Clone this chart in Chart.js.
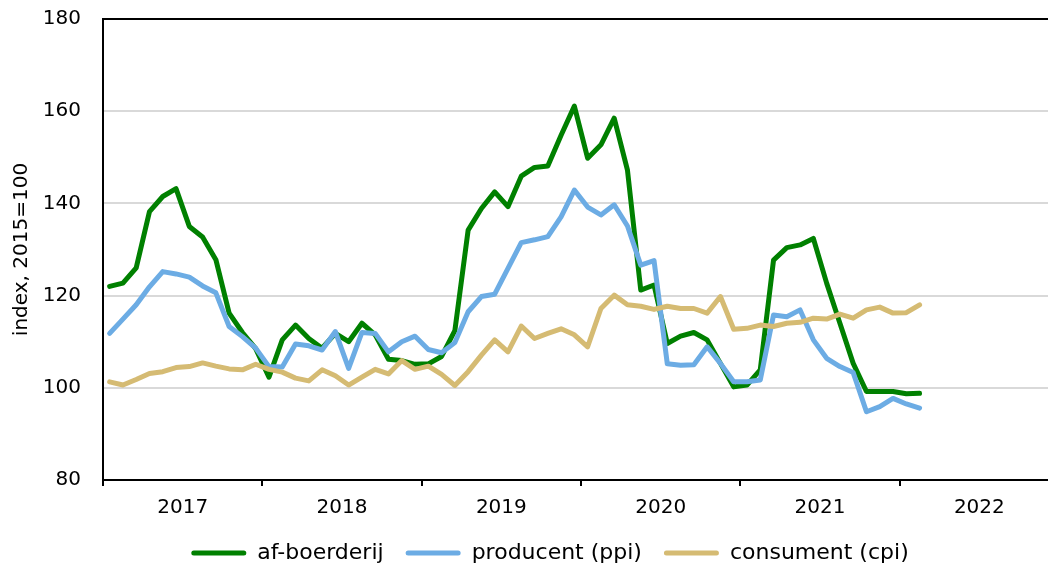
<!DOCTYPE html>
<html>
<head>
<meta charset="utf-8">
<script src="https://cdn.jsdelivr.net/npm/chart.js@4/dist/chart.umd.min.js"></script>
<style>
  html, body { margin: 0; padding: 0; background: #fff; overflow: hidden; }
  #wrap { width: 1100px; height: 572px; }
</style>
</head>
<body>
<div id="wrap"><canvas id="chart" width="1100" height="572"></canvas></div>
<script>
const years = ["2017", "2018", "2019", "2020", "2021", "2022"];
const monthNums = ["01", "02", "03", "04", "05", "06", "07", "08", "09", "10", "11", "12"];
const months = years.flatMap((y) => monthNums.map((m) => `${y}-${m}`));
const yTicks = [80, 100, 120, 140, 160, 180];

// jan 2017 - feb 2022
const afBoerderij = [
  122.0, 122.7, 126.0, 138.2, 141.5, 143.2, 135.0, 132.7, 127.8, 116.2, 112.0, 108.5,
  102.3, 110.4, 113.6, 110.7, 108.6, 111.8, 110.0, 114.0, 111.5, 106.2, 105.9, 105.1,
  105.2, 106.8, 112.4, 134.2, 138.9, 142.5, 139.3, 145.9, 147.8, 148.1, 154.8, 161.1,
  149.8, 152.7, 158.5, 147.2, 121.2, 122.3, 109.6, 111.2, 112.0, 110.4, 105.3, 100.2,
  100.6, 103.9, 127.7, 130.4, 131.0, 132.4, 122.7, 114.0, 105.3, 99.2, 99.2, 99.2,
  98.7, 98.8,
];
const producent = [
  111.8, 114.9, 118.0, 121.9, 125.2, 124.7, 124.0, 122.1, 120.6, 113.3, 111.1, 108.6,
  104.6, 104.5, 109.5, 109.1, 108.2, 112.2, 104.2, 112.0, 111.8, 107.8, 110.0, 111.2,
  108.3, 107.6, 109.8, 116.5, 119.8, 120.3, 125.9, 131.5, 132.1, 132.8, 137.1, 142.9,
  139.2, 137.5, 139.7, 135.1, 126.6, 127.6, 105.2, 104.9, 105.0, 108.9, 105.3, 101.3,
  101.3, 101.7, 115.8, 115.4, 116.9, 110.4, 106.4, 104.6, 103.3, 94.8, 95.9, 97.7,
  96.5, 95.6,
];
const consument = [
  101.3, 100.6, 101.8, 103.1, 103.5, 104.4, 104.6, 105.4, 104.7, 104.1, 103.9, 105.1,
  104.0, 103.4, 102.1, 101.5, 103.9, 102.6, 100.6, 102.3, 104.0, 103.0, 105.9, 104.0,
  104.7, 102.9, 100.5, 103.5, 107.1, 110.4, 107.8, 113.4, 110.7, 111.8, 112.8, 111.5,
  108.9, 117.2, 120.1, 118.0, 117.7, 117.0, 117.7, 117.2, 117.2, 116.2, 119.8, 112.7,
  112.9, 113.6, 113.3, 114.0, 114.2, 115.1, 114.9, 116.0, 115.1, 116.9, 117.5, 116.2,
  116.3, 118.0,
];

Chart.defaults.font.family = "'DejaVu Sans', Verdana, sans-serif";
Chart.defaults.font.size = 20;
Chart.defaults.color = "#000";

const line = (label, data, color, order) => ({
  label, data, order,
  borderColor: color, backgroundColor: color,
  borderWidth: 5, pointRadius: 0, tension: 0,
  borderCapStyle: "round", borderJoinStyle: "round",
});

new Chart(document.getElementById("chart"), {
  type: "line",
  data: {
    labels: months,
    datasets: [
      line("af-boerderij", afBoerderij, "#008000", 3),
      line("producent (ppi)", producent, "#6cace4", 2),
      line("consument (cpi)", consument, "#d5bb73", 1),
    ],
  },
  options: {
    responsive: false,
    animation: false,
    layout: { padding: { top: 19, left: 0, right: 0, bottom: 0 } },
    plugins: {
      tooltip: { enabled: false },
      legend: {
        position: "bottom",
        maxHeight: 52,
        labels: {
          boxWidth: 55, boxHeight: 5, padding: 22,
          font: { size: 22 },
          useBorderRadius: true, borderRadius: 2.5,
          sort: (a, b) => a.datasetIndex - b.datasetIndex,
          generateLabels: (chart) => Chart.defaults.plugins.legend.labels.generateLabels(chart).map((l) => ({ ...l, lineWidth: 0 })),
        },
      },
    },
    scales: {
      x: { type: "category", display: false, offset: true },
      x2: {
        type: "category", labels: years, position: "bottom", offset: true,
        grid: { offset: true, drawOnChartArea: false, tickLength: 6, lineWidth: 2, color: "#000" },
        border: { color: "#000", width: 2 },
        ticks: { padding: 10, maxRotation: 0, autoSkip: false },
        afterFit: (s) => { s.height = 40; },
      },
      y: {
        min: 80, max: 180,
        afterBuildTicks: (s) => { s.ticks = yTicks.map((v) => ({ value: v })); },
        afterFit: (s) => { s.width = 103; s.paddingTop = 0; s.paddingBottom = 0; },
        ticks: { padding: 22 },
        grid: {
          drawTicks: false, lineWidth: 2,
          color: (c) => c.tick.value === 180 ? "#000" : (c.tick.value === 80 ? "rgba(0,0,0,0)" : "#d9d9d9"),
        },
        border: { color: "#000", width: 2 },
        title: { display: true, text: "index, 2015=100", padding: { top: 10, bottom: 0 } },
      },
      yR: {
        position: "right",
        grid: { display: false, drawTicks: false },
        ticks: { display: false },
        border: { display: false },
        afterFit: (s) => { s.width = 41; s.paddingTop = 0; s.paddingBottom = 0; },
      },
    },
  },
});
</script>
</body>
</html>
